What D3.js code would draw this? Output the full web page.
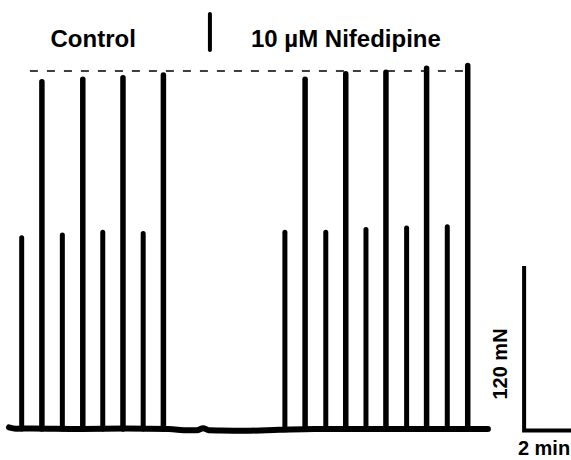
<!DOCTYPE html>
<html>
<head>
<meta charset="utf-8">
<script src="https://cdn.jsdelivr.net/npm/d3@7"></script>
<style>
  html, body { margin: 0; padding: 0; background: #fff; }
  svg { display: block; }
  text { font-family: "Liberation Sans", Arial, sans-serif; font-weight: bold; fill: #000; }
</style>
</head>
<body>
<svg id="chart" width="571" height="460"></svg>
<script>
// ---- data (time in minutes, force in mN) ----
const spikeTimes  = [0.54, 1.40, 2.27, 3.14, 3.99, 4.85, 5.71, 6.57,
                     11.74, 12.60, 13.48, 14.33, 15.19, 16.04, 16.92, 17.77, 18.65, 19.52];
const spikeForces = [140, 254, 142, 256, 144, 257, 143, 259,
                     144, 256, 144, 260, 146, 261, 147, 264, 148, 266];
const baselineTimes  = [0, 0.3, 1, 3, 5, 6.8, 7.6, 8.0, 8.26, 8.5, 9, 10, 11.5, 13, 15, 17, 19, 20.38];
const baselineForces = [1.2, 0.2, 0.4, 0, 0.3, 0, -1, -0.9, 0.6, -0.9, -1.1, -1.3, -0.6, 0, 0, 0, 0, 0];
const referenceForce = 262;           // dashed line level
const referenceSpan  = [0.89, 19.4];  // dashed line extent (min)
const drugTime = 8.55;                // application marker
const labels = { control: "Control", drug: "10 \u00b5M Nifedipine", force: "120 mN", time: "2 min" };
const scaleBarForce = 120;  // mN
const scaleBarTime  = 2;    // min
const scaleBarStart = 21.92; // min

// ---- scales ----
const pxPerMin = 23.5, pxPerMN = 164 / 120;
const x = d3.scaleLinear().domain([0, 20.5]).range([9, 9 + 20.5 * pxPerMin]);
const y = d3.scaleLinear().domain([0, 300]).range([429, 429 - 300 * pxPerMN]);

const svg = d3.select("#chart");

// baseline trace
const baseline = baselineTimes.map((t, i) => [t, baselineForces[i]]);
svg.append("path")
  .attr("d", d3.line().x(d => x(d[0])).y(d => y(d[1])).curve(d3.curveMonotoneX)(baseline))
  .attr("fill", "none").attr("stroke", "#000").attr("stroke-width", 6)
  .attr("stroke-linecap", "round").attr("stroke-linejoin", "round");

// spikes
svg.append("g").selectAll("line")
  .data(spikeTimes.map((t, i) => ({ t, f: spikeForces[i] })))
  .join("line")
  .attr("x1", d => x(d.t)).attr("x2", d => x(d.t))
  .attr("y1", y(0)).attr("y2", d => y(d.f))
  .attr("stroke", "#000").attr("stroke-width", d => d.f > 200 ? 5.5 : 5)
  .attr("stroke-linecap", "round");

// dashed reference
svg.append("line")
  .attr("x1", x(referenceSpan[0])).attr("x2", x(referenceSpan[1]))
  .attr("y1", y(referenceForce)).attr("y2", y(referenceForce))
  .attr("stroke", "#000").attr("stroke-width", 1.5)
  .attr("stroke-dasharray", "8,9");

// drug application marker
svg.append("line")
  .attr("x1", x(drugTime)).attr("x2", x(drugTime))
  .attr("y1", 14).attr("y2", 50)
  .attr("stroke", "#000").attr("stroke-width", 4).attr("stroke-linecap", "round");

// labels
svg.append("text").attr("x", 50.5).attr("y", 47).attr("font-size", 24).text(labels.control);
svg.append("text").attr("x", 251).attr("y", 47).attr("font-size", 24).text(labels.drug);

// scale bar
const sbx = x(scaleBarStart);
svg.append("path")
  .attr("d", `M${sbx},${y(scaleBarForce) + 1} L${sbx},${y(0) + 1.5} L${x(scaleBarStart + scaleBarTime) + 4},${y(0) + 1.5}`)
  .attr("fill", "none").attr("stroke", "#000").attr("stroke-width", 4)
  .attr("stroke-linejoin", "miter");

svg.append("text").attr("x", 544).attr("y", 455).attr("font-size", 20)
  .attr("text-anchor", "middle").text(labels.time);
svg.append("text").attr("font-size", 20).attr("text-anchor", "middle")
  .attr("transform", "translate(507,364) rotate(-90)").text(labels.force);
</script>
</body>
</html>
